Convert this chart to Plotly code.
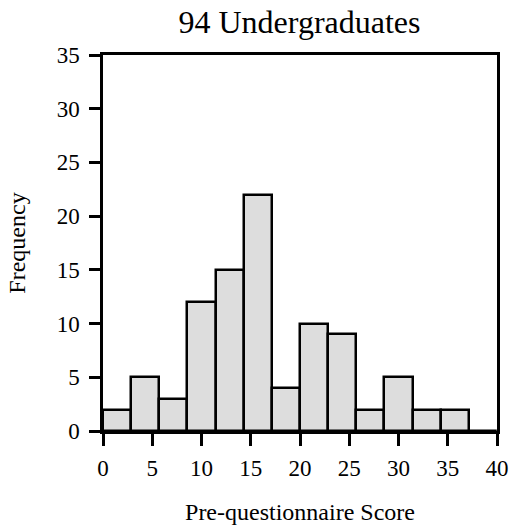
import plotly.graph_objects as go

# Histogram data
bin_start = 0.0
bin_width = 2.857
counts = [2, 5, 3, 12, 15, 22, 4, 10, 9, 2, 5, 2, 2, 0]

x_ticks = [0, 5, 10, 15, 20, 25, 30, 35, 40]
y_ticks = [0, 5, 10, 15, 20, 25, 30, 35]

title_text = "94 Undergraduates"
x_title = "Pre-questionnaire Score"
y_title = "Frequency"

centers = [bin_start + bin_width * (i + 0.5) for i in range(len(counts))]

FONT = "Liberation Serif, Times New Roman, serif"

fig = go.Figure()
fig.add_trace(go.Bar(
    x=centers,
    y=counts,
    width=bin_width,
    marker=dict(color="#dddddd", line=dict(color="black", width=2.5)),
    showlegend=False,
    hoverinfo="x+y",
))

fig.update_layout(
    width=511,
    height=525,
    paper_bgcolor="white",
    plot_bgcolor="white",
    margin=dict(l=103, r=14, t=55, b=94, autoexpand=False),
    font=dict(family=FONT, size=23, color="black"),
    title=dict(
        text=title_text,
        font=dict(family=FONT, size=32, color="black"),
        x=0.5 * (101 + 498) / 511,
        xanchor="center",
        yref="container",
        y=1 - 22 / 525,
        yanchor="middle",
    ),
    bargap=0,
)

fig.update_xaxes(
    range=[0, 40],
    tickvals=x_ticks,
    ticktext=[str(v) for v in x_ticks],
    ticks="outside",
    ticklen=12,
    tickwidth=2.5,
    tickcolor="black",
    showline=True,
    linecolor="black",
    linewidth=2.5,
    mirror=True,
    showgrid=False,
    zeroline=False,
    automargin=False,
    ticklabelstandoff=3,
    tickfont=dict(family=FONT, size=23, color="black"),
    title=dict(text=x_title, font=dict(family=FONT, size=24, color="black"), standoff=28),
)

fig.update_yaxes(
    range=[0, 35],
    tickvals=y_ticks,
    ticktext=[str(v) for v in y_ticks],
    ticks="outside",
    ticklen=11,
    tickwidth=2.5,
    tickcolor="black",
    showline=True,
    linecolor="black",
    linewidth=2.5,
    mirror=True,
    showgrid=False,
    zeroline=False,
    automargin=False,
    ticklabelstandoff=5,
    tickfont=dict(family=FONT, size=23, color="black"),
    title=dict(text=y_title, font=dict(family=FONT, size=24, color="black"), standoff=25),
)

fig.write_html(
    "out.html",
    config={"displayModeBar": False},
    post_script="document.body.style.margin='0';document.body.style.overflow='hidden';",
)
